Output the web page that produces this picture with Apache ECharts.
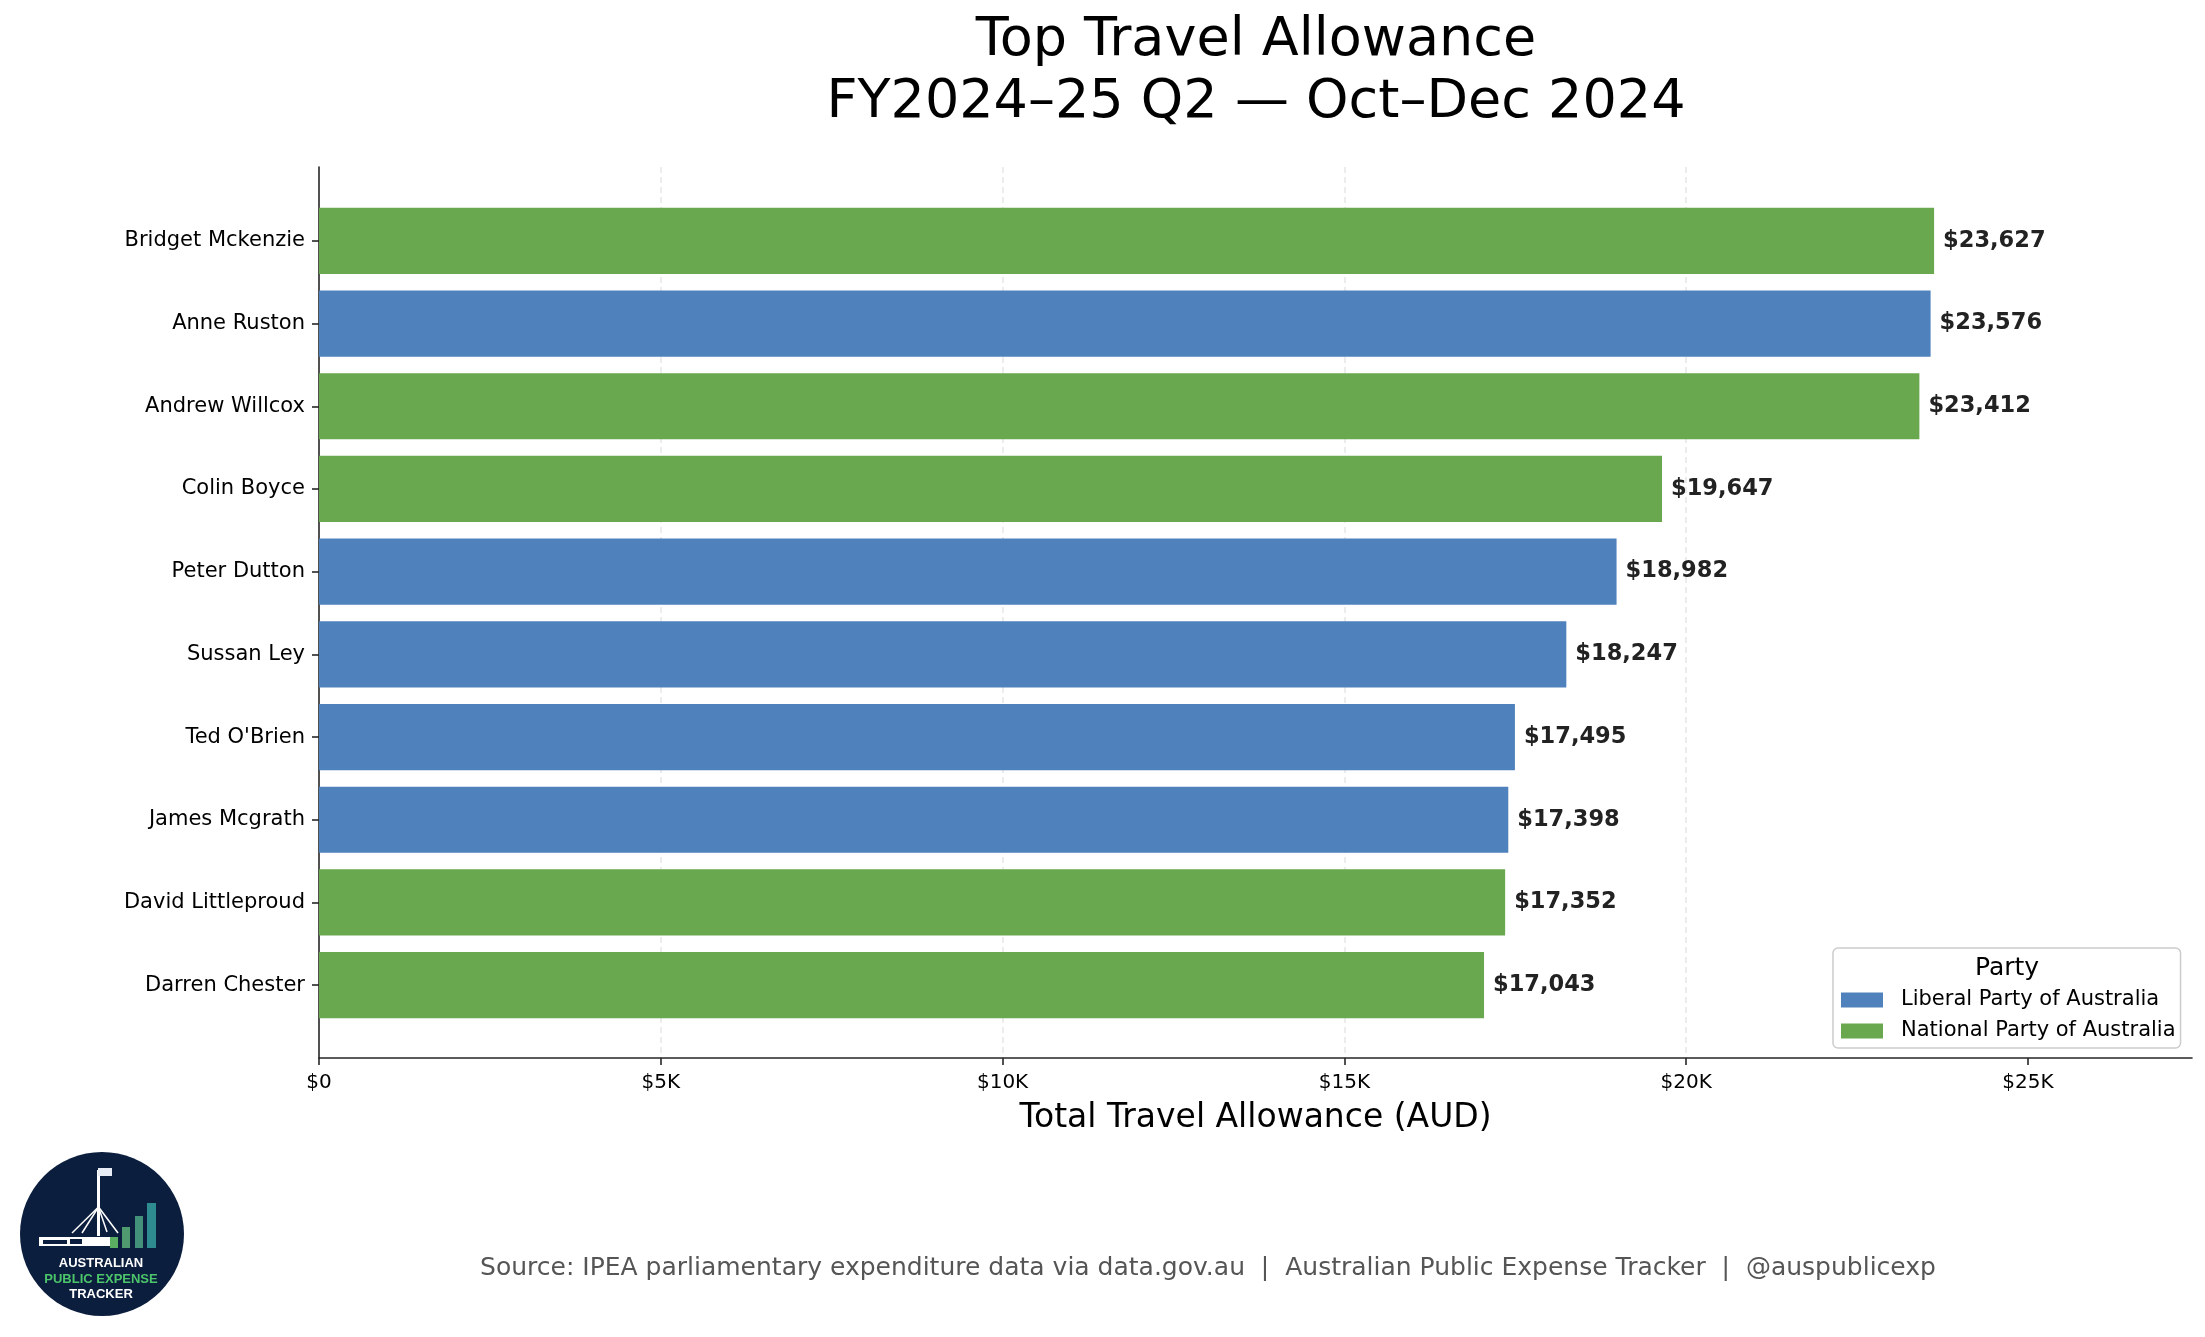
<!DOCTYPE html>
<html>
<head>
<meta charset="utf-8">
<script src="https://cdn.jsdelivr.net/npm/echarts@6/dist/echarts.min.js"></script>
<style>
  body { margin: 0; background: #fff; }
  #chart { width: 2205px; height: 1337px; }
</style>
</head>
<body>
<div id="chart"></div>
<script>
// 数据
var names = ['Bridget Mckenzie', 'Anne Ruston', 'Andrew Willcox', 'Colin Boyce', 'Peter Dutton',
  'Sussan Ley', "Ted O'Brien", 'James Mcgrath', 'David Littleproud', 'Darren Chester'];
var values = [23627, 23576, 23412, 19647, 18982, 18247, 17495, 17398, 17352, 17043];
var parties = ['N', 'L', 'N', 'N', 'L', 'L', 'L', 'L', 'N', 'N'];
var partyNames = { L: 'Liberal Party of Australia', N: 'National Party of Australia' };
var partyColors = { L: '#4f81bd', N: '#6aa84f' };
var xTicks = [0, 5000, 10000, 15000, 20000, 25000];
var xMax = 27400;

var font = 'DejaVu Sans';

function partySeries(code) {
  return {
    name: partyNames[code],
    type: 'bar',
    xAxisIndex: 1,
    yAxisIndex: 1,
    barWidth: '80%',
    barGap: '-100%',
    itemStyle: { color: partyColors[code] },
    label: {
      show: true,
      position: 'right',
      distance: 9,
      fontFamily: font,
      fontSize: 22.5,
      fontWeight: 'bold',
      color: '#222',
      formatter: function (p) { return '$' + p.value.toLocaleString('en-US'); }
    },
    data: values.map(function (v, i) { return parties[i] === code ? v : '-'; })
  };
}

var myChart = echarts.init(document.getElementById('chart'));

var option = {
  animation: false,
  backgroundColor: '#fff',
  textStyle: { fontFamily: font },
  grid: [
    // 外框（坐标轴、网格线）
    { left: 319, right: 13, top: 167, bottom: 279 },
    // 条形
    { left: 319, right: 13, top: 199.5, bottom: 310.5 }
  ],
  xAxis: [
    {
      gridIndex: 0,
      type: 'value',
      min: 0,
      max: xMax,
      interval: 5000,
      name: 'Total Travel Allowance (AUD)',
      nameLocation: 'middle',
      nameGap: 44,
      nameTextStyle: { fontFamily: font, fontSize: 33, color: '#000' },
      axisLine: { show: true, lineStyle: { color: '#262626', width: 1.6 } },
      axisTick: { show: true, length: 7, customValues: xTicks, lineStyle: { color: '#262626', width: 1.6 } },
      axisLabel: {
        customValues: xTicks,
        margin: 15,
        fontFamily: font,
        fontSize: 20,
        color: '#000',
        formatter: function (v) { return v === 0 ? '$0' : '$' + (v / 1000) + 'K'; }
      },
      splitLine: {
        show: true,
        showMinLine: false,
        showMaxLine: false,
        lineStyle: { color: '#e6e6e6', width: 1.5, type: [6, 4] }
      }
    },
    {
      gridIndex: 1,
      type: 'value',
      min: 0,
      max: xMax,
      show: false
    }
  ],
  yAxis: [
    {
      gridIndex: 0,
      type: 'value',
      min: 0,
      max: 1,
      axisLine: { show: true, lineStyle: { color: '#262626', width: 1.6 } },
      axisTick: { show: false },
      axisLabel: { show: false },
      splitLine: { show: false }
    },
    {
      gridIndex: 1,
      type: 'category',
      inverse: true,
      data: names,
      axisLine: { show: false },
      axisTick: { show: true, alignWithLabel: true, length: 7, lineStyle: { color: '#262626', width: 1.6 } },
      axisLabel: { margin: 14, fontFamily: font, fontSize: 21, color: '#000' }
    }
  ],
  legend: {
    orient: 'vertical',
    left: 1833,
    top: 948,
    padding: [41, 5, 6, 8],
    itemWidth: 42,
    itemHeight: 15,
    itemGap: 9,
    icon: 'rect',
    backgroundColor: 'rgba(255,255,255,0.85)',
    borderColor: '#cccccc',
    borderWidth: 1.5,
    borderRadius: 5,
    textStyle: { fontFamily: font, fontSize: 21, lineHeight: 22, color: '#000', padding: [0, 0, 0, 13] },
    data: [partyNames.L, partyNames.N]
  },
  series: [partySeries('L'), partySeries('N')],
  graphic: [
    { type: 'text', x: 1256, y: 41, z: 10, style: { text: 'Top Travel Allowance', fontFamily: font, fontSize: 54, fill: '#000', align: 'center', verticalAlign: 'middle' } },
    { type: 'text', x: 1256, y: 103, z: 10, style: { text: 'FY2024\u201325 Q2 \u2014 Oct\u2013Dec 2024', fontFamily: font, fontSize: 54, fill: '#000', align: 'center', verticalAlign: 'middle' } },
    { type: 'text', x: 2007, y: 968, z: 20, style: { text: 'Party', fontFamily: font, fontSize: 25, fill: '#000', align: 'center', verticalAlign: 'middle' } },
    { type: 'text', x: 1208, y: 1268, z: 10, style: { text: 'Source: IPEA parliamentary expenditure data via data.gov.au  |  Australian Public Expense Tracker  |  @auspublicexp', fontFamily: font, fontSize: 25, fill: '#555', align: 'center', verticalAlign: 'middle' } },
    // 标志
    { type: 'circle', shape: { cx: 102, cy: 1234, r: 82 }, style: { fill: '#0c1e3e' } },
    { type: 'rect', shape: { x: 39, y: 1237, width: 72, height: 9 }, style: { fill: '#ffffff' } },
    { type: 'rect', shape: { x: 43, y: 1240, width: 24, height: 4 }, style: { fill: '#0c1e3e' } },
    { type: 'rect', shape: { x: 70, y: 1239, width: 12, height: 5 }, style: { fill: '#0c1e3e' } },
    { type: 'rect', shape: { x: 97, y: 1170, width: 3, height: 66 }, style: { fill: '#ffffff' } },
    { type: 'rect', shape: { x: 98, y: 1168, width: 14, height: 8 }, style: { fill: '#e8ecf4' } },
    { type: 'line', shape: { x1: 98.5, y1: 1207, x2: 72, y2: 1233 }, style: { stroke: '#fff', lineWidth: 1.5 } },
    { type: 'line', shape: { x1: 98.5, y1: 1207, x2: 82, y2: 1233 }, style: { stroke: '#fff', lineWidth: 1.5 } },
    { type: 'line', shape: { x1: 98.5, y1: 1207, x2: 107, y2: 1232 }, style: { stroke: '#fff', lineWidth: 1.5 } },
    { type: 'line', shape: { x1: 98.5, y1: 1207, x2: 118, y2: 1233 }, style: { stroke: '#fff', lineWidth: 1.5 } },
    { type: 'rect', shape: { x: 110, y: 1237, width: 8, height: 11 }, style: { fill: '#5aae61' } },
    { type: 'rect', shape: { x: 122, y: 1227, width: 8, height: 21 }, style: { fill: '#4f9a6e' } },
    { type: 'rect', shape: { x: 135, y: 1216, width: 8, height: 32 }, style: { fill: '#43917a' } },
    { type: 'rect', shape: { x: 147, y: 1203, width: 9, height: 45 }, style: { fill: '#2e8b8f' } },
    { type: 'text', x: 101, y: 1263, style: { text: 'AUSTRALIAN', fontFamily: 'Liberation Sans', fontWeight: 'bold', fontSize: 13, fill: '#ffffff', align: 'center', verticalAlign: 'middle' } },
    { type: 'text', x: 101, y: 1279, style: { text: 'PUBLIC EXPENSE', fontFamily: 'Liberation Sans', fontWeight: 'bold', fontSize: 13, fill: '#4cc46a', align: 'center', verticalAlign: 'middle' } },
    { type: 'text', x: 101, y: 1294, style: { text: 'TRACKER', fontFamily: 'Liberation Sans', fontWeight: 'bold', fontSize: 13, fill: '#ffffff', align: 'center', verticalAlign: 'middle' } }
  ]
};

myChart.setOption(option);
</script>
</body>
</html>
